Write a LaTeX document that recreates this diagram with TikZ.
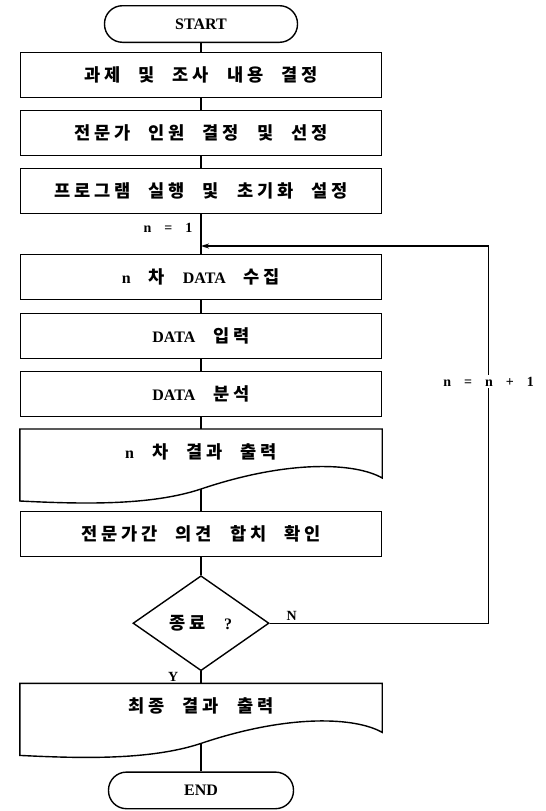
\documentclass[tikz,border=0pt]{standalone}
\usepackage{fontspec}
\setmainfont{Liberation Serif}
\newfontfamily\kr{Noto Sans CJK KR}[Scale=1.1, LetterSpace=22]
\newcommand{\boxfont}{\bfseries\fontsize{16pt}{19pt}\selectfont\spaceskip 10pt\relax}
\newcommand{\lblfont}{\bfseries\fontsize{14pt}{16pt}\selectfont\spaceskip 13pt\relax}
\newcommand{\wgap}{\hspace{18pt}}
\usetikzlibrary{positioning,shapes.geometric,arrows.meta}
\tikzset{
  block/.style = {rectangle, draw=black, line width=1.4pt,
                  minimum width=361pt, minimum height=44.6pt,
                  inner sep=2pt, align=center, font=\boxfont},
  term/.style = {block, rounded corners=18pt,
                 minimum width=193pt, minimum height=36.6pt},
  docbox/.style = {block, draw=none},
  decision/.style = {diamond, draw=black, line width=1.4pt, aspect=1.43,
                     minimum width=136pt, minimum height=95pt, inner sep=0pt,
                     font=\boxfont},
  link/.style = {line width=1.4pt},
  arrow/.style = {link, -{Stealth[length=8pt,width=5pt]}},
  lbl/.style = {font=\lblfont, inner sep=2pt}
}
% document shape: box with a wavy bottom, #1-w is the point on the wave
\newcommand{\docwave}[1]{%
  \draw[link] (#1.north west) -- (#1.north east) -- ([yshift=-3pt]#1.south east)
    .. controls ([xshift=-26pt,yshift=12pt]#1.south east) and ([xshift=89pt,yshift=16pt]#1.south)
    .. ([yshift=-14pt]#1.south) coordinate (#1-w)
    .. controls ([xshift=-51pt,yshift=-31pt]#1.south) and ([xshift=60pt,yshift=-29pt]#1.south west)
    .. ([yshift=-26pt]#1.south west) -- cycle;}

\begin{document}
\begin{tikzpicture}[node distance=12pt]
\useasboundingbox (0,0) rectangle (546pt,-811pt);

\node (start)   [term] at (201pt,-24pt)         {START};
\node (task)    [block, below=9pt of start]     {\kr 과제\wgap 및\wgap 조사\wgap 내용\wgap 결정};
\node (panel)   [block, below=of task]          {\kr 전문가\wgap 인원\wgap 결정\wgap 및\wgap 선정};
\node (init)    [block, below=of panel]         {\kr 프로그램\wgap 실행\wgap 및\wgap 초기화\wgap 설정};
\node (collect) [block, below=40pt of init]     {n\wgap{\kr 차}\wgap DATA\wgap{\kr 수집}};
\node (input)   [block, below=13pt of collect]  {DATA\wgap{\kr 입력}};
\node (anal)    [block, below=of input]         {DATA\wgap{\kr 분석}};
\node (round)   [docbox, below=of anal]         {n\wgap{\kr 차\wgap 결과\wgap 출력}};
\node (agree)   [block, below=36pt of round]    {\kr 전문가간\wgap 의견\wgap 합치\wgap 확인};
\node (stop)    [decision, below=18pt of agree] {{\kr 종료}\wgap ?};
\node (final)   [docbox, below=of stop]         {\kr 최종\wgap 결과\wgap 출력};
\node (end)     [term, minimum width=185pt, below=42pt of final] {END};

\docwave{round}
\docwave{final}

\draw[link] (start) -- (task);
\draw[link] (task) -- (panel);
\draw[link] (panel) -- (init);
\draw[link] (init) -- node[lbl, left, pos=0.35, xshift=-6pt] {n = 1}
                      coordinate[pos=0.8] (loopin) (collect);
\draw[link] (collect) -- (input);
\draw[link] (input) -- (anal);
\draw[link] (anal) -- (round);
\draw[link] (round-w) -- (agree);
\draw[link] (agree) -- (stop);
\draw[link] (stop) -- node[lbl, left, xshift=-20pt] {Y} (final);
\draw[link] (final-w) -- (end);

% loop back for the next round
\draw[arrow] (stop.east) -- node[lbl, above, pos=0.1] {N} ++(219pt,0)
             |- node[lbl, fill=white, pos=0.32] {n = n + 1} (loopin);

\end{tikzpicture}
\end{document}
